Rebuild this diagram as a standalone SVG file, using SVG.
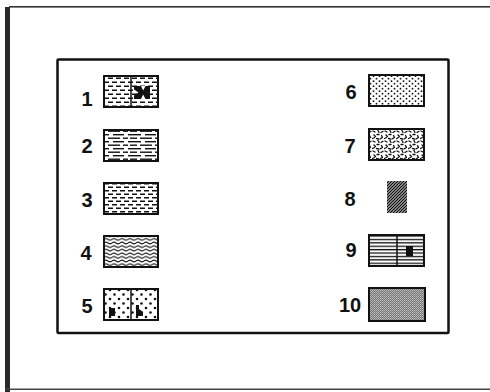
<svg xmlns="http://www.w3.org/2000/svg" width="490" height="392" viewBox="0 0 490 392">
<style>
.lbl{font-family:"Liberation Sans",Arial,sans-serif;font-weight:bold;font-size:20px;fill:#111;text-anchor:middle}
.bx{stroke:#111;stroke-width:2}
.dv{stroke:#111;stroke-width:1.5}
.ink{fill:#111}
</style>
<defs>
<pattern id="pDash1" width="8" height="8" patternUnits="userSpaceOnUse">
<rect width="8" height="8" fill="#fff"/>
<rect x="0" y="1.5" width="5" height="1.5" fill="#111"/>
<rect x="4" y="5.5" width="4" height="1.5" fill="#111"/>
<rect x="0" y="5.5" width="1" height="1.5" fill="#111"/>
</pattern>
<pattern id="pDash" width="8" height="7" patternUnits="userSpaceOnUse">
<rect width="8" height="7" fill="#fff"/>
<rect x="0" y="1" width="5" height="1.5" fill="#111"/>
<rect x="4" y="4.5" width="4" height="1.5" fill="#111"/>
<rect x="0" y="4.5" width="1" height="1.5" fill="#111"/>
</pattern>
<pattern id="pLong" width="32" height="7" patternUnits="userSpaceOnUse">
<rect width="32" height="7" fill="#fff"/>
<rect x="0" y="1" width="13" height="1.4" fill="#111"/>
<rect x="17" y="1" width="11" height="1.4" fill="#111"/>
<rect x="2" y="4.5" width="7" height="1.4" fill="#111"/>
<rect x="12" y="4.5" width="12" height="1.4" fill="#111"/>
<rect x="27" y="4.5" width="5" height="1.4" fill="#111"/>
</pattern>
<pattern id="pWave" width="8" height="3.6" patternUnits="userSpaceOnUse">
<rect width="8" height="3.6" fill="#fff"/>
<path d="M0 1.8 Q2 0.4 4 1.8 T8 1.8" stroke="#111" stroke-width="1.1" fill="none"/>
</pattern>
<pattern id="pDots5" width="9" height="9" patternUnits="userSpaceOnUse">
<rect width="9" height="9" fill="#fff"/>
<circle cx="2" cy="2" r="1.3" fill="#111"/>
<circle cx="6.5" cy="6.5" r="1.3" fill="#111"/>
</pattern>
<pattern id="pDots6" width="6" height="5" patternUnits="userSpaceOnUse">
<rect width="6" height="5" fill="#fff"/>
<circle cx="1.5" cy="1.2" r="0.9" fill="#111"/>
<circle cx="4.5" cy="3.7" r="0.9" fill="#111"/>
</pattern>
<pattern id="pSpeck" width="12" height="10" patternUnits="userSpaceOnUse">
<rect width="12" height="10" fill="#fff"/>
<path d="M1 1 l2 1 M6 0.5 l1 2 M9 2.5 l2 -1.2 M2 5 l1.5 1.5 M5 4.5 l2 0 M9.5 5.5 l1 2 M0.5 8.5 l2 -1 M4.5 8.5 l2 0.5 M8 9 l1.5 -1" stroke="#111" stroke-width="1.3" stroke-linecap="round" fill="none"/>
</pattern>
<pattern id="pHatch" width="3" height="3" patternUnits="userSpaceOnUse">
<path d="M0 3 L3 0 M-1 1 L1 -1 M2 4 L4 2" stroke="#111" stroke-width="1.5"/>
</pattern>
<pattern id="pLines" width="4" height="3.4" patternUnits="userSpaceOnUse">
<rect width="4" height="3.4" fill="#fff"/>
<rect x="0" y="0.8" width="4" height="1.3" fill="#111"/>
</pattern>
<pattern id="pGray" width="2" height="2" patternUnits="userSpaceOnUse">
<rect width="2" height="2" fill="#7a7a7a"/>
<rect x="0" y="0" width="1" height="1" fill="#bcbcbc"/>
<rect x="1" y="1" width="1" height="1" fill="#a8a8a8"/>
</pattern>
</defs>
<rect width="490" height="392" fill="#fff"/>
<g id="frame">
<rect x="5" y="7" width="5" height="385" fill="#2a2a2a"/>
<rect x="9" y="6" width="481" height="1.6" fill="#333"/>
<rect x="5" y="388.5" width="485" height="1.5" fill="#444"/>
<rect x="57.5" y="59.5" width="391" height="273.5" rx="1" fill="none" stroke="#111" stroke-width="2.5"/>
</g>
<g id="item1">
<text class="lbl" x="87" y="106">1</text>
<rect class="bx" x="104" y="76" width="54" height="31" fill="url(#pDash1)"/>
<line class="dv" x1="131" y1="76" x2="131" y2="107"/>
<path class="ink" d="M134 86 H150 V99 H134 V95.5 L138.5 92.5 L134 89.5 Z"/>
<path d="M141 86 H145.5 L143.2 90.5 Z M141 99 H145.5 L143.2 94.5 Z" fill="#fff"/>
</g>
<g id="item2">
<text class="lbl" x="87" y="153">2</text>
<rect class="bx" x="104" y="130" width="54" height="31" fill="url(#pLong)"/>
</g>
<g id="item3">
<text class="lbl" x="87" y="207">3</text>
<rect class="bx" x="104" y="183" width="54" height="31" fill="url(#pDash)"/>
</g>
<g id="item4">
<text class="lbl" x="86" y="260">4</text>
<rect class="bx" x="104" y="236" width="54" height="31" fill="url(#pWave)"/>
</g>
<g id="item5">
<text class="lbl" x="87" y="313">5</text>
<rect class="bx" x="104" y="289" width="54" height="31" fill="url(#pDots5)"/>
<line class="dv" x1="131" y1="289" x2="131" y2="320"/>
<rect class="ink" x="109" y="308" width="6" height="8"/>
<path class="ink" d="M136 305 h3 v4 l4 3 v4 h-7 z"/>
</g>
<g id="item6">
<text class="lbl" x="351" y="99">6</text>
<rect class="bx" x="369" y="75" width="55" height="31" fill="url(#pDots6)"/>
</g>
<g id="item7">
<text class="lbl" x="350" y="153">7</text>
<rect class="bx" x="369" y="129" width="55" height="31" fill="url(#pSpeck)"/>
</g>
<g id="item8">
<text class="lbl" x="350" y="206">8</text>
<rect x="387" y="181" width="20" height="32" fill="url(#pHatch)"/>
</g>
<g id="item9">
<text class="lbl" x="351" y="257">9</text>
<rect class="bx" x="369" y="235" width="55" height="31" fill="url(#pLines)"/>
<line class="dv" x1="397" y1="235" x2="397" y2="266"/>
<rect class="ink" x="406" y="246" width="7" height="10"/>
</g>
<g id="item10">
<text class="lbl" x="350" y="312">10</text>
<rect class="bx" x="369" y="288" width="56" height="33" fill="url(#pGray)"/>
</g>
</svg>
